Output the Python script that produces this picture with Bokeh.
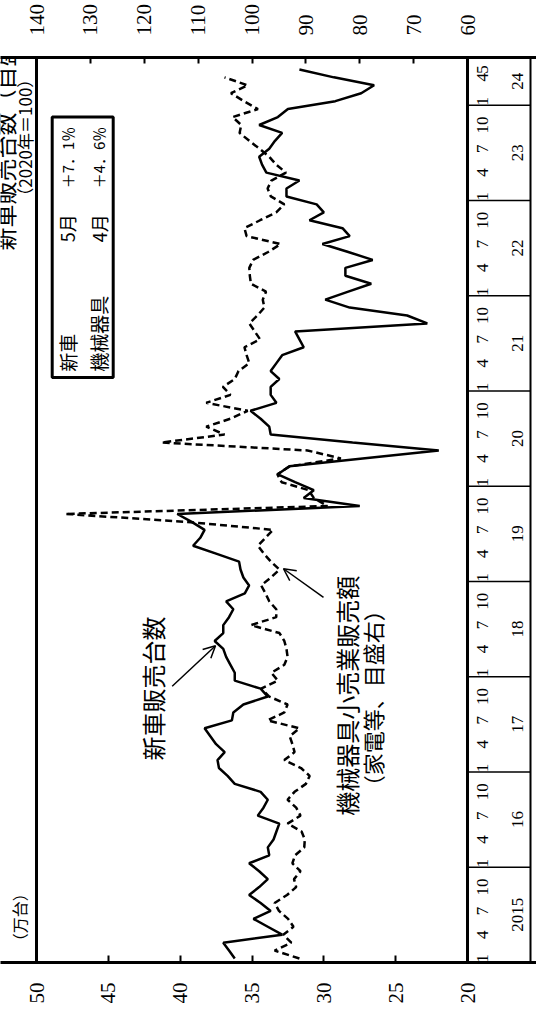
import math
import numpy as np
from bokeh.plotting import figure
from bokeh.models import (Range1d, LinearAxis, FixedTicker, Label, Arrow, OpenHead,
                          Span, ColumnDataSource)
from bokeh.embed import file_html
from bokeh.resources import INLINE
from bokeh.core.properties import value

# ---------------- data ----------------
# 新車販売台数（万台, 目盛左）  2015年1月〜2024年5月
new_car = [
    36.2, 36.6, 37.0, 32.9, 33.9, 34.9, 33.7, 34.4, 35.2, 34.5, 33.9, 34.5,   # 2015
    35.2, 33.8, 33.9, 33.5, 33.3, 33.1, 34.6, 34.2, 33.9, 34.4, 36.2, 36.7,   # 2016
    37.3, 37.4, 36.9, 37.5, 37.9, 38.3, 36.4, 36.3, 35.6, 33.9, 34.4, 36.2,   # 2017
    36.2, 36.5, 36.8, 37.0, 37.6, 37.0, 37.0, 36.6, 36.3, 36.8, 35.5, 35.2,   # 2018
    35.6, 35.8, 35.9, 37.5, 39.1, 38.6, 38.3, 39.2, 40.2, 27.5, 31.4, 30.7,   # 2019
    32.0, 33.2, 32.4, 27.3, 22.0, 28.0, 33.7, 33.8, 34.4, 35.1, 33.3, 33.7,   # 2020
    33.7, 33.1, 33.7, 33.3, 32.9, 31.4, 31.7, 32.0, 22.8, 24.2, 28.2, 29.9,   # 2021
    28.3, 26.7, 28.5, 28.5, 26.6, 28.3, 30.1, 28.2, 28.7, 31.0, 30.0, 30.5,   # 2022
    32.6, 32.6, 31.7, 34.0, 34.3, 34.5, 33.8, 33.4, 32.9, 34.5, 33.2, 32.5,   # 2023
    29.2, 27.4, 26.5, 29.3, 31.7,                                             # 2024
]
# 機械器具小売業販売額（2020年=100, 目盛右）  2015年1月〜2024年4月
machinery = [
    91.2, 95.8, 92.7, 94.2, 92.3, 93.3, 95.0, 95.8, 93.5, 91.8, 92.2, 91.0,   # 2015
    92.5, 92.0, 90.3, 90.2, 90.8, 93.4, 91.0, 91.8, 93.4, 92.1, 90.0, 89.3,   # 2016
    90.9, 94.0, 92.1, 92.5, 93.0, 91.2, 97.1, 94.0, 93.4, 96.8, 98.3, 95.2,   # 2017
    96.4, 94.0, 93.4, 93.6, 94.0, 94.9, 100.2, 95.5, 95.5, 96.8, 97.5, 98.3,  # 2018
    96.5, 94.9, 96.5, 97.8, 98.9, 97.5, 96.1, 112.0, 134.7, 86.0, 88.5, 89.5, # 2019
    94.5, 95.3, 93.0, 83.5, 89.7, 116.8, 105.1, 108.5, 104.0, 100.8, 108.5, 104.0,  # 2020
    105.4, 103.2, 102.5, 100.5, 101.0, 101.4, 98.5, 99.5, 100.5, 99.0, 97.7, 98.0,   # 2021
    97.4, 100.2, 100.4, 100.5, 99.8, 97.0, 94.7, 101.0, 101.4, 98.5, 95.5, 94.0,     # 2022
    96.5, 97.1, 96.4, 93.7, 95.5, 96.8, 98.6, 100.5, 102.3, 102.0, 103.6, 98.9,      # 2023
    101.5, 103.9, 100.8, 105.1,                                                      # 2024
]
year_labels = ["2015", "16", "17", "18", "19", "20", "21", "22", "23", "24"]
month_labels = ["1", "4", "7", "10"]
month_labels_last = ["1", "4", "5"]
left_ticks = [20, 25, 30, 35, 40, 45, 50]
right_ticks = [60, 70, 80, 90, 100, 110, 120, 130, 140]
legend_rows = [("新車", "5月", "＋7．1％"), ("機械器具", "4月", "＋4．6％")]

# ---------------- geometry (pixels of the page) ----------------
FIG_W, FIG_H = 536, 1016
FRAME_T, FRAME_B = 57, 962         # top / bottom of the plotting box
VAL_L, VAL_R = 36, 467             # left / right of the value area
STRIP_R = 530                      # outer line of the time-label strip
N_MONTHS = 114                     # 2015/1 .. 2024/6

def px_range(v_left, v_right):
    """Range whose values v_left / v_right fall on VAL_L / VAL_R, spread over the whole width."""
    k = (v_right - v_left) / (VAL_R - VAL_L)
    return Range1d(v_left - VAL_L * k, v_left + (FIG_W - VAL_L) * k)

car_rng = px_range(left_ticks[-1], left_ticks[0])
mach_rng = px_range(right_ticks[-1], right_ticks[0])

p = figure(width=FIG_W, height=FIG_H, output_backend="svg", toolbar_location=None,
           x_range=car_rng, y_range=Range1d(0, N_MONTHS),
           x_axis_location=None, y_axis_location=None,
           min_border_left=0, min_border_right=0,
           min_border_top=FRAME_T, min_border_bottom=FIG_H - FRAME_B)
p.outline_line_color = None
p.background_fill_color = "white"
p.border_fill_color = "white"
p.grid.visible = False
p.extra_x_ranges = {"mach": mach_rng, "lab": Range1d(0, FIG_W)}

SERIF = "Liberation Serif"
JP = "Noto Sans CJK JP"

def style_axis(ax, standoff, tick_in):
    ax.major_label_orientation = math.pi / 2
    ax.major_label_standoff = standoff
    ax.major_label_text_font = SERIF
    ax.major_label_text_font_size = "21px"
    ax.major_label_text_color = "black"
    ax.axis_line_width = 3
    ax.axis_line_color = "black"
    ax.major_tick_in = tick_in
    ax.major_tick_out = 0
    ax.major_tick_line_width = 2
    ax.major_tick_line_color = "black"
    ax.minor_tick_line_color = None

bax = LinearAxis(ticker=FixedTicker(ticks=left_ticks), bounds=(car_rng.end, car_rng.start))
style_axis(bax, 20, 7)
p.add_layout(bax, "below")

tax = LinearAxis(x_range_name="mach", ticker=FixedTicker(ticks=right_ticks),
                 bounds=(mach_rng.end, mach_rng.start))
style_axis(tax, 22, 6)
p.add_layout(tax, "above")

# left edge of the box and the time axis line (value 20)
p.add_layout(Span(location=left_ticks[-1], dimension="height", line_color="black", line_width=3))
p.add_layout(Span(location=left_ticks[0], dimension="height", line_color="black", line_width=3))

# ---------------- time labels strip ----------------
n_years = len(year_labels)
bounds = [12 * k for k in range(n_years)]
p.segment(x0=[VAL_R] * n_years, x1=[STRIP_R] * n_years, y0=bounds, y1=bounds,
          x_range_name="lab", line_color="black", line_width=1.5)
p.segment(x0=[STRIP_R], x1=[STRIP_R], y0=[0], y1=[N_MONTHS],
          x_range_name="lab", line_color="black", line_width=2)

m_pos, m_txt = [], []
for k in range(n_years):
    labs = month_labels_last if k == n_years - 1 else month_labels
    for lab in labs:
        m_pos.append(12 * k + int(lab) - 1 + 0.5)
        m_txt.append(lab)
p.text(x=[VAL_R + 15] * len(m_pos), y=m_pos, text=m_txt, x_range_name="lab",
       angle=math.pi / 2, text_align="center", text_baseline="middle",
       text_font=value(SERIF), text_font_size="17px", text_color="black")

y_pos = [12 * k + 6 for k in range(n_years - 1)] + [12 * (n_years - 1) + 3]
p.text(x=[VAL_R + 50] * n_years, y=y_pos, text=year_labels, x_range_name="lab",
       angle=math.pi / 2, text_align="center", text_baseline="middle",
       text_font=value(SERIF), text_font_size="17px", text_color="black")

for txt, xx in (("（月）", 499), ("（年）", 519)):
    p.add_layout(Label(x=xx, y=N_MONTHS + 4.4, x_range_name="lab", text=txt,
                       angle=math.pi / 2, text_align="center", text_baseline="middle",
                       text_font=JP, text_font_size="14px", text_color="black"))

# ---------------- data lines ----------------
src_car = ColumnDataSource(dict(v=new_car, t=np.arange(len(new_car)) + 0.5))
src_mach = ColumnDataSource(dict(v=machinery, t=np.arange(len(machinery)) + 0.5))
p.line(x="v", y="t", source=src_car, line_color="black", line_width=2.5)
p.line(x="v", y="t", source=src_mach, x_range_name="mach", line_color="black",
       line_width=2.5, line_dash="7 4")

# ---------------- legend box ----------------
p.quad(left=[51.7], right=[112.7], bottom=[73.7], top=[106.5], x_range_name="lab",
       fill_color="white", line_color="black", line_width=3)
for (name, mon, chg), xx in zip(legend_rows, (66.7, 98)):
    p.add_layout(Label(x=xx, y=74.4, x_range_name="lab", text=name, angle=math.pi / 2,
                       text_align="left", text_baseline="middle", text_font=JP,
                       text_font_size="19px", text_color="black"))
    p.add_layout(Label(x=xx, y=92.5, x_range_name="lab", text=mon, angle=math.pi / 2,
                       text_align="center", text_baseline="middle", text_font=JP,
                       text_font_size="18px", text_color="black"))
    p.add_layout(Label(x=xx, y=101.4, x_range_name="lab", text=chg, angle=math.pi / 2,
                       text_align="center", text_baseline="middle", text_font=JP,
                       text_font_size="15px", text_color="black"))

# ---------------- annotations ----------------
p.add_layout(Label(x=152, y=34.5, x_range_name="lab", text="新車販売台数", angle=math.pi / 2,
                   text_align="center", text_baseline="middle", text_font=JP,
                   text_font_size="24px", text_color="black"))
p.add_layout(Arrow(x_start=171.7, y_start=34.8, x_end=215, y_end=39.9, x_range_name="lab",
                   line_color="black", line_width=1.5,
                   end=OpenHead(size=12, line_width=1.5, line_color="black")))
p.add_layout(Label(x=346, y=33.6, x_range_name="lab", text="機械器具小売業販売額",
                   angle=math.pi / 2, text_align="center", text_baseline="middle",
                   text_font=JP, text_font_size="24px", text_color="black"))
p.add_layout(Label(x=371, y=33.3, x_range_name="lab", text="（家電等、目盛右）",
                   angle=math.pi / 2, text_align="center", text_baseline="middle",
                   text_font=JP, text_font_size="22px", text_color="black"))
p.add_layout(Arrow(x_start=323, y_start=46.0, x_end=283, y_end=49.6, x_range_name="lab",
                   line_color="black", line_width=1.5,
                   end=OpenHead(size=12, line_width=1.5, line_color="black")))

# ---------------- margin texts ----------------
p.add_layout(Label(x=24, y=103.9, x_range_name="lab", text="（2020年＝100）",
                   angle=math.pi / 2, text_align="center", text_baseline="middle",
                   text_font=JP, text_font_size="17px", text_color="black"))
p.add_layout(Label(x=18, y=5.7, x_range_name="lab", text="（万台）",
                   angle=math.pi / 2, text_align="center", text_baseline="middle",
                   text_font=JP, text_font_size="16px", text_color="black"))
p.add_layout(Label(x=3, y=89.7, x_range_name="lab",
                   text="新車販売台数（目盛左）と機械器具小売業販売額",
                   angle=math.pi / 2, text_align="left", text_baseline="middle",
                   text_font=JP, text_font_size="23px", text_color="black"))

open("out.html", "w").write(file_html(p, INLINE))
